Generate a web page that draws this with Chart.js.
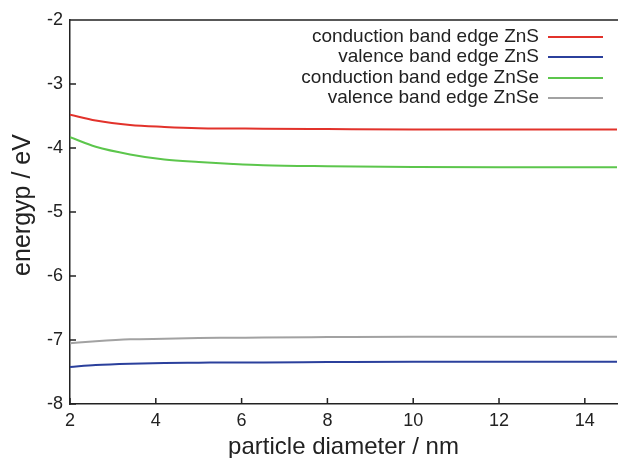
<!DOCTYPE html>
<html lang="en">
<head>
  <meta charset="UTF-8">
  <title>Band edges vs particle diameter</title>
  <script src="https://cdn.jsdelivr.net/npm/chart.js"></script>
  <style>
    html, body { margin: 0; padding: 0; background: #ffffff; }
    #wrap { width: 618px; height: 458px; }
  </style>
</head>
<body>
  <div id="wrap"><canvas id="bandChart" width="618" height="458"></canvas></div>
  <script>
    // valores
    const diameters = [2, 2.6, 3.4, 4.2, 5, 5.8, 6.5, 8, 10, 12, 14, 14.75];
    const cbZnS  = [-3.48, -3.57, -3.64, -3.67, -3.69, -3.695, -3.70, -3.705, -3.71, -3.71, -3.71, -3.71];
    const vbZnS  = [-7.42, -7.39, -7.37, -7.36, -7.355, -7.35, -7.35, -7.345, -7.34, -7.34, -7.34, -7.34];
    const cbZnSe = [-3.83, -3.98, -4.10, -4.18, -4.22, -4.25, -4.27, -4.285, -4.295, -4.30, -4.30, -4.30];
    const vbZnSe = [-7.05, -7.02, -6.99, -6.98, -6.97, -6.965, -6.96, -6.955, -6.95, -6.95, -6.95, -6.95];
    const seriesLabels = ['conduction band edge ZnS', 'valence band edge ZnS', 'conduction band edge ZnSe', 'valence band edge ZnSe'];
    const xTicks = [2, 4, 6, 8, 10, 12, 14];
    const yTicks = [-8, -7, -6, -5, -4, -3, -2];
    const yTitle = 'energyp / eV';

    const FONT = '"Liberation Sans", Arial, sans-serif';
    const colors = ['#e2322b', '#2b409c', '#5cc64c', '#a2a2a2'];

    const toPoints = arr => arr.map((v, i) => ({ x: diameters[i], y: v }));

    // ticks hacia dentro, borde superior, título Y y leyenda a la derecha
    const framePlugin = {
      id: 'frame',
      afterDraw(chart) {
        const { ctx, chartArea: a, scales } = chart;
        ctx.save();
        ctx.strokeStyle = '#222';
        ctx.lineWidth = 1.5;
        ctx.beginPath();
        ctx.moveTo(a.left, a.top);
        ctx.lineTo(a.right + 2, a.top);
        xTicks.forEach(t => {
          const px = scales.x.getPixelForValue(t);
          ctx.moveTo(px, a.bottom);
          ctx.lineTo(px, a.bottom - 6);
        });
        yTicks.forEach(t => {
          const py = scales.y.getPixelForValue(t);
          ctx.moveTo(a.left, py);
          ctx.lineTo(a.left + 6, py);
        });
        ctx.stroke();

        // título del eje Y
        ctx.save();
        ctx.translate(23, 205);
        ctx.rotate(-Math.PI / 2);
        ctx.font = '25px ' + FONT;
        ctx.fillStyle = '#222';
        ctx.textAlign = 'center';
        ctx.textBaseline = 'middle';
        ctx.fillText(yTitle, 0, 0);
        ctx.restore();

        ctx.font = '19px ' + FONT;
        ctx.textAlign = 'right';
        ctx.textBaseline = 'middle';
        const rows = [37, 57, 78, 98];
        chart.data.datasets.forEach((ds, i) => {
          ctx.fillStyle = '#222';
          ctx.fillText(ds.label, 539, rows[i]);
          ctx.strokeStyle = ds.borderColor;
          ctx.lineWidth = 2;
          ctx.beginPath();
          ctx.moveTo(548, rows[i]);
          ctx.lineTo(603, rows[i]);
          ctx.stroke();
        });
        ctx.restore();
      }
    };

    const ctx = document.getElementById('bandChart').getContext('2d');
    const bandChart = new Chart(ctx, {
      type: 'line',
      data: {
        datasets: [cbZnS, vbZnS, cbZnSe, vbZnSe].map((arr, i) => ({
          label: seriesLabels[i],
          data: toPoints(arr),
          borderColor: colors[i],
          backgroundColor: colors[i],
          borderWidth: 2,
          pointRadius: 0,
          cubicInterpolationMode: 'monotone',
          fill: false
        }))
      },
      options: {
        responsive: false,
        animation: false,
        layout: { padding: { left: 0, right: 1, top: 20, bottom: 0 } },
        plugins: {
          legend: { display: false },
          tooltip: { enabled: false }
        },
        scales: {
          x: {
            type: 'linear',
            min: 2,
            max: 14.75,
            afterBuildTicks: s => { s.ticks = xTicks.map(v => ({ value: v })); },
            afterFit: s => { s.height = 54; },
            grid: { display: false, drawTicks: false },
            border: { display: true, color: '#222', width: 1.5 },
            ticks: { color: '#222', font: { family: FONT, size: 18 }, padding: 6, maxRotation: 0 },
            title: { display: true, text: 'particle diameter / nm', color: '#222', font: { family: FONT, size: 24, lineHeight: 0.9 }, padding: { top: 0, bottom: 0 } }
          },
          y: {
            min: -8,
            max: -2,
            afterBuildTicks: s => { s.ticks = yTicks.map(v => ({ value: v })); },
            afterFit: s => { s.width = 70; },
            grid: { display: false, drawTicks: false },
            border: { display: true, color: '#222', width: 1.5 },
            ticks: { color: '#222', font: { family: FONT, size: 18 }, padding: 7 },
            title: { display: false }
          }
        }
      },
      plugins: [framePlugin]
    });
  </script>
</body>
</html>
